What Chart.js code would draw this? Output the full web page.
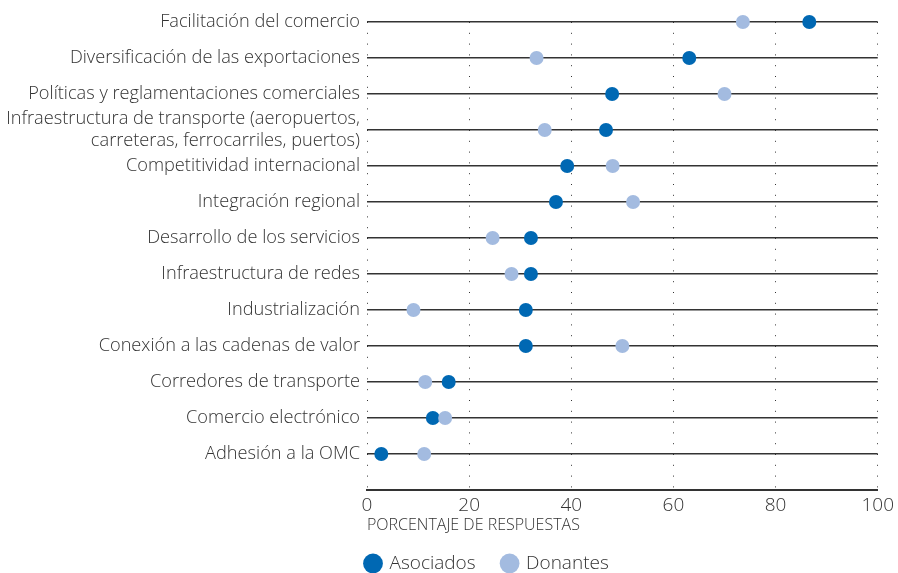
<!DOCTYPE html>
<html>
<head>
<meta charset="utf-8">
<script src="https://cdn.jsdelivr.net/npm/chart.js@4"></script>
<style>
  html, body { margin: 0; padding: 0; background: #ffffff; }
  #wrap { width: 898px; height: 573px; position: relative; }
</style>
</head>
<body>
<div id="wrap"><canvas id="c" width="898" height="573"></canvas></div>
<script>
const categories = [
  'Facilitación del comercio',
  'Diversificación de las exportaciones',
  'Políticas y reglamentaciones comerciales',
  ['Infraestructura de transporte (aeropuertos,', 'carreteras, ferrocarriles, puertos)'],
  'Competitividad internacional',
  'Integración regional',
  'Desarrollo de los servicios',
  'Infraestructura de redes',
  'Industrialización',
  'Conexión a las cadenas de valor',
  'Corredores de transporte',
  'Comercio electrónico',
  'Adhesión a la OMC',
  ''
];
const asociados = [86.6, 63.1, 48.0, 46.8, 39.2, 37.0, 32.1, 32.1, 31.1, 31.1, 16.0, 12.9, 2.8];
const donantes  = [73.6, 33.2, 70.0, 34.8, 48.1, 52.1, 24.6, 28.3, 9.1, 50.0, 11.4, 15.3, 11.2];
const xTicks = [0, 20, 40, 60, 80, 100];
const xTitle = 'PORCENTAJE DE RESPUESTAS';
const seriesNames = ['Asociados', 'Donantes'];

const FONT = '"Open Sans", "DejaVu Sans", sans-serif';
const TEXT = '#333333';
const DARK = '#0068b3';
const LIGHT = '#a3bbe0';

const legendPlacer = {
  id: 'legendPlacer',
  beforeDraw(chart) {
    const lg = chart.legend;
    if (!lg) return;
    const gap = 27;
    try { lg.options.labels.padding = gap; } catch (e) {}
    const p = lg.options.labels.padding;
    lg.left = chart.chartArea.left - 1 - p;
    lg.right = chart.width;
    lg.top = 554 - p;
    lg.bottom = chart.height;
  }
};

new Chart(document.getElementById('c'), {
  type: 'line',
  data: {
    labels: categories,
    datasets: [
      {
        label: seriesNames[1],
        data: donantes,
        showLine: false,
        pointRadius: 7,
        pointHoverRadius: 7,
        pointBackgroundColor: LIGHT,
        pointBorderColor: LIGHT,
        pointBorderWidth: 0,
        backgroundColor: LIGHT,
        borderColor: LIGHT
      },
      {
        label: seriesNames[0],
        data: asociados,
        showLine: false,
        pointRadius: 7,
        pointHoverRadius: 7,
        pointBackgroundColor: DARK,
        pointBorderColor: DARK,
        pointBorderWidth: 0,
        backgroundColor: DARK,
        borderColor: DARK
      }
    ]
  },
  options: {
    indexAxis: 'y',
    responsive: false,
    animation: false,
    devicePixelRatio: 1,
    layout: { padding: { top: 22, right: 18, left: 0, bottom: 0 } },
    plugins: {
      tooltip: { enabled: false },
      legend: {
        position: 'bottom',
        align: 'start',
        reverse: true,
        labels: {
          usePointStyle: true,
          pointStyle: 'circle',
          boxWidth: 14,
          boxHeight: 14,
          padding: 14,
          color: TEXT,
          font: { family: FONT, size: 19, weight: 300 }
        }
      }
    },
    scales: {
      x: {
        type: 'linear',
        min: 0,
        max: 100,
        afterBuildTicks(s) { s.ticks = xTicks.map(v => ({ value: v })); },
        afterFit(s) {
          const lh = s.chart.legend ? s.chart.legend.height : 0;
          s.height = s.chart.height - 490 - lh;
        },
        grid: {
          color: TEXT,
          lineWidth: 1,
          drawTicks: false
        },
        border: { display: true, color: TEXT, width: 2, dash: [1, 9.8] },
        ticks: {
          color: TEXT,
          padding: 4,
          font: { family: FONT, size: 19, weight: 300 }
        },
        title: {
          display: true,
          text: xTitle,
          align: 'start',
          color: TEXT,
          padding: { top: 0, bottom: -5 },
          font: { family: FONT, size: 16, weight: 300 }
        }
      },
      y: {
        type: 'category',
        offset: false,
        afterFit(s) { s.width = 367; },
        grid: {
          color: TEXT,
          lineWidth: 1.5,
          drawTicks: false
        },
        border: { display: false },
        ticks: {
          color: TEXT,
          padding: 7,
          autoSkip: false,
          font: { family: FONT, size: 18.2, weight: 300, lineHeight: 1.2 }
        }
      }
    }
  },
  plugins: [legendPlacer]
});
</script>
</body>
</html>
